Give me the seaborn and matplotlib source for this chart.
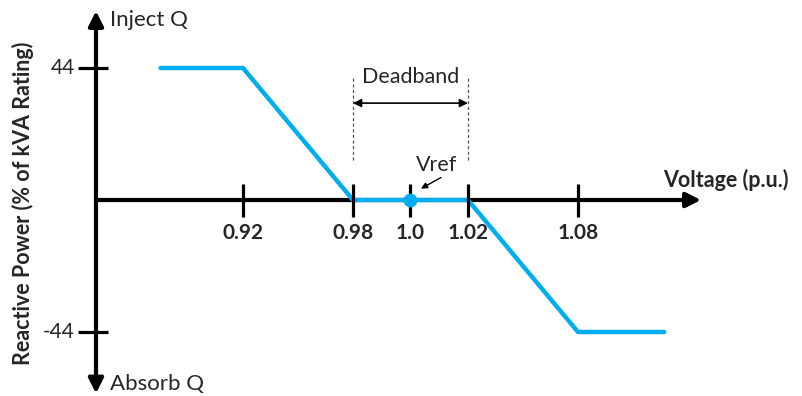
import numpy as np
import seaborn as sns
import matplotlib
matplotlib.use('Agg')
import matplotlib.pyplot as plt

sns.set_theme(style='white')
plt.rcParams['font.family'] = ['Lato', 'DejaVu Sans']

# volt-var curve
voltage = [0.875, 0.92, 0.98, 1.02, 1.08, 1.127]
reactive_q = [44, 44, 0, 0, -44, -44]
v_ref = [1.0]
q_ref = [0]

tick_volts = [0.92, 0.98, 1.0, 1.02, 1.08]
tick_labels = ['0.92', '0.98', '1.0', '1.02', '1.08']
q_ticks = [44, -44]
q_labels = ['44', '-44']
deadband = [0.98, 1.02]

BLUE = '#00AEEF'

# schematic (non-linear) voltage axis: anchor volts -> pixel positions
anchor_v = np.array([0.70, 0.92, 0.98, 1.02, 1.08, 1.30])
anchor_px = np.array([-160.3, 243, 353, 468, 578, 981.3])


def fwd(v):
    return np.interp(v, anchor_v, anchor_px)


def inv(p):
    return np.interp(p, anchor_px, anchor_v)


fig = plt.figure(figsize=(8.03, 3.96), dpi=100)
ax = fig.add_axes([0, 0, 1, 1])
ax.set_xscale('function', functions=(fwd, inv))
ax.set_xlim(inv(0), inv(803))
ax.set_ylim(-65.33, 66.67)
ax.axis('off')

v_axis = inv(96)

# axes with arrows
ax.annotate('', xy=(inv(701), 0), xytext=(v_axis, 0),
            arrowprops=dict(arrowstyle='-|>', lw=3, color='black',
                            mutation_scale=22, shrinkA=0, shrinkB=0))
ax.annotate('', xy=(v_axis, 63), xytext=(v_axis, -64.5),
            arrowprops=dict(arrowstyle='<|-|>', lw=3, color='black',
                            mutation_scale=22, shrinkA=0, shrinkB=0))

# ticks
ax.vlines(tick_volts, -5.5, 5.5, color='black', lw=2.3, zorder=6.5)
ax.hlines(q_ticks, inv(78), inv(108), color='black', lw=2.3)
for v, lab in zip(tick_volts, tick_labels):
    ax.text(v, -11, lab, ha='center', va='center', fontsize=15, fontweight='bold')
for q, lab in zip(q_ticks, q_labels):
    ax.text(inv(75), q, lab, ha='right', va='center', fontsize=15)

# curve
sns.lineplot(x=voltage, y=reactive_q, color=BLUE, lw=3.2, ax=ax, zorder=6)
sns.scatterplot(x=v_ref, y=q_ref, color=BLUE, s=85, edgecolor=BLUE, zorder=7, ax=ax)

# deadband
ax.vlines(deadband, 13.3, 40.7, color='#555555', lw=0.9, linestyles=(0, (2.5, 2)))
ax.annotate('', xy=(deadband[1], 32.3), xytext=(deadband[0], 32.3),
            arrowprops=dict(arrowstyle='<|-|>', lw=1.2, color='black',
                            mutation_scale=12, shrinkA=0, shrinkB=0))
ax.text(np.mean(deadband), 41, 'Deadband', ha='center', va='center', fontsize=15.5)

# Vref
ax.annotate('', xy=(inv(421), 3.8), xytext=(inv(441), 7.5),
            arrowprops=dict(arrowstyle='-|>', lw=1, color='black',
                            mutation_scale=9, shrinkA=0, shrinkB=0))
ax.text(inv(437), 11.7, 'Vref', ha='center', va='center', fontsize=15.5)

# labels
ax.text(inv(110), 60, 'Inject Q', ha='left', va='center', fontsize=16)
ax.text(inv(110), -61.3, 'Absorb Q', ha='left', va='center', fontsize=16)
ax.text(inv(663), 6.7, 'Voltage (p.u.)', ha='left', va='center', fontsize=15.5, fontweight='bold')
fig.text(0.028, 0.487, 'Reactive Power (% of kVA Rating)', rotation=90,
         ha='center', va='center', fontsize=15.5, fontweight='bold')

fig.savefig('out.png', dpi=100)
